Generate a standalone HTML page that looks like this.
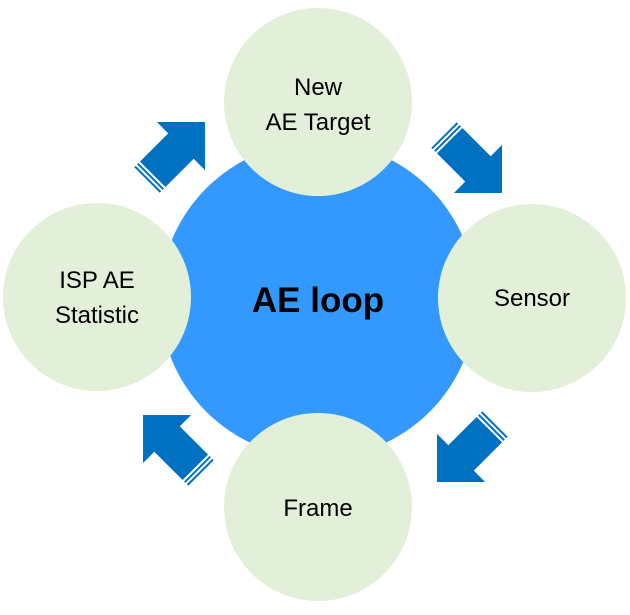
<!DOCTYPE html>
<html><head><style>body{margin:0;background:#fff}</style></head><body>
<svg width="630" height="610" viewBox="0 0 630 610" xmlns="http://www.w3.org/2000/svg" font-family="Liberation Sans, sans-serif">
<defs>
<g id="ar" fill="#0070c0">
<polygon points="0,0 -34,-34 -34,-18 -74,-18 -74,18 -34,18 -34,34"/>
<rect x="-78" y="-18" width="2" height="36"/>
<rect x="-82" y="-18" width="2" height="36"/>
</g>
</defs>
<circle cx="318" cy="300" r="158" fill="#3399ff"/>
<circle cx="318" cy="102" r="94" fill="#e2f0d9"/>
<circle cx="532" cy="298" r="94" fill="#e2f0d9"/>
<circle cx="318" cy="507" r="94" fill="#e2f0d9"/>
<circle cx="97" cy="297" r="94" fill="#e2f0d9"/>
<use href="#ar" transform="translate(502,193) rotate(45)"/>
<use href="#ar" transform="translate(437,482) rotate(135)"/>
<use href="#ar" transform="translate(143,415) rotate(225)"/>
<use href="#ar" transform="translate(205,122) rotate(315)"/>
<g font-size="24" text-anchor="middle" fill="#000">
<text x="318" y="95">New</text>
<text x="318" y="130">AE Target</text>
<text x="532" y="306">Sensor</text>
<text x="318" y="516">Frame</text>
<text x="97" y="288">ISP AE</text>
<text x="97" y="323">Statistic</text>
</g>
<text x="318" y="312" font-size="35" font-weight="bold" text-anchor="middle">AE loop</text>
</svg>
</body></html>
